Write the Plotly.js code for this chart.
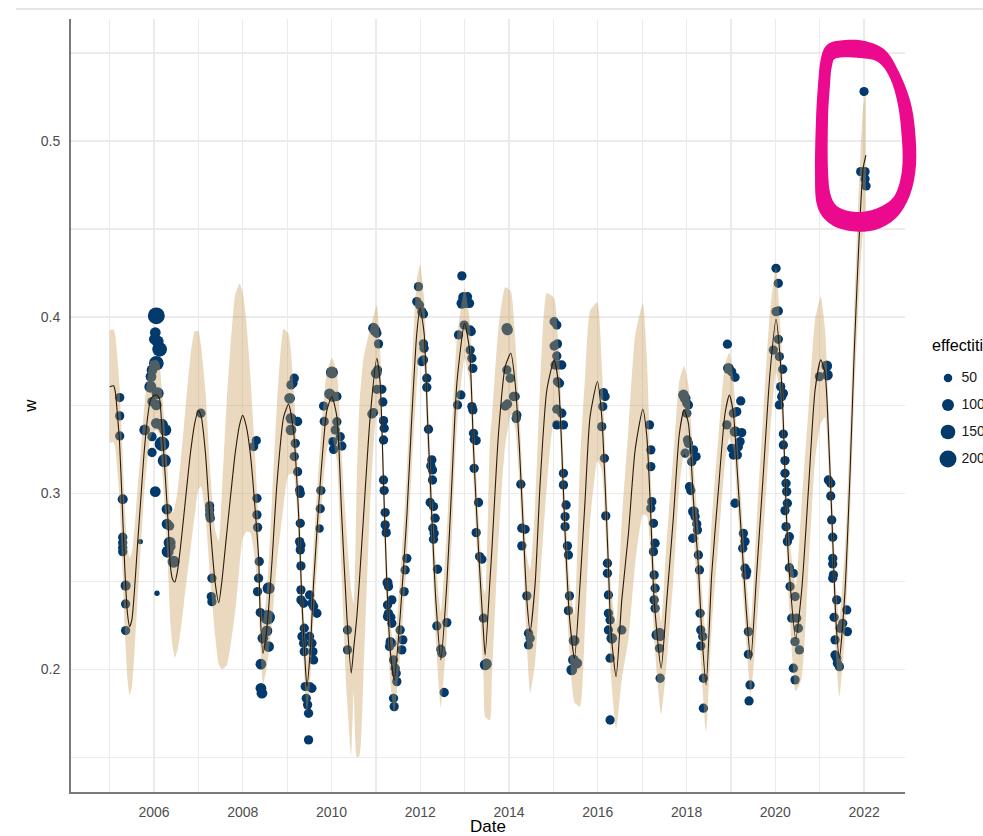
<!DOCTYPE html>
<html>
<head>
<meta charset="utf-8">
<script src="https://cdn.plot.ly/plotly-3.0.1.min.js"></script>
<style>html,body{margin:0;padding:0;background:#fff;}#chart{width:983px;height:836px;}</style>
</head>
<body>
<div id="chart"></div>
<script>
// ---------- DATA ----------
// smooth fit: [decimal year, fitted w, half-width of the confidence band]
const fit2005_2008 = [
 [2005.00,0.3605,0.032],[2005.09,0.3610,0.032],[2005.13,0.357,0.032],[2005.19,0.340,0.032],[2005.22,0.330,0.032],
 [2005.28,0.296,0.033],[2005.34,0.258,0.035],[2005.40,0.232,0.037],[2005.45,0.2242,0.039],[2005.50,0.228,0.038],
 [2005.56,0.245,0.035],[2005.62,0.2677,0.032],[2005.70,0.296,0.028],[2005.77,0.321,0.025],[2005.85,0.342,0.023],
 [2005.92,0.353,0.022],
 [2006.00,0.3555,0.02],[2006.05,0.3558,0.02],[2006.12,0.354,0.02],[2006.17,0.340,0.021],[2006.22,0.3226,0.022],
 [2006.31,0.2867,0.026],[2006.37,0.2583,0.032],[2006.42,0.251,0.038],[2006.47,0.2496,0.043],[2006.53,0.256,0.045],
 [2006.60,0.270,0.048],[2006.67,0.2867,0.05],[2006.82,0.3226,0.055],[2006.92,0.340,0.052],
 [2007.00,0.347,0.045],[2007.06,0.344,0.04],[2007.16,0.3226,0.035],[2007.28,0.2773,0.03],[2007.38,0.2489,0.03],
 [2007.46,0.2378,0.035],[2007.53,0.250,0.05],[2007.64,0.2773,0.075],[2007.83,0.3226,0.09],[2007.93,0.339,0.08],
 [2008.00,0.3442,0.07],[2008.08,0.338,0.06],[2008.17,0.3226,0.045],[2008.32,0.2773,0.025],[2008.36,0.2621,0.02],
 [2008.39,0.2337,0.018],[2008.455,0.2091,0.018],[2008.52,0.218,0.02],[2008.58,0.2337,0.025],[2008.66,0.2621,0.035],
 [2008.77,0.3055,0.045],[2008.92,0.3433,0.05]
];
const fit2009_2013 = [
 [2009.03,0.3505,0.04],[2009.14,0.3359,0.025],[2009.26,0.2867,0.018],[2009.33,0.2393,0.016],[2009.41,0.2015,0.015],
 [2009.445,0.1901,0.015],[2009.52,0.211,0.018],[2009.595,0.2488,0.02],[2009.745,0.3056,0.022],[2009.895,0.347,0.022],
 [2010.008,0.3548,0.022],[2010.12,0.3435,0.025],[2010.23,0.2867,0.035],[2010.346,0.2299,0.045],[2010.443,0.1978,0.047],
 [2010.50,0.212,0.025],[2010.571,0.230,0.08],[2010.63,0.251,0.10],[2010.721,0.2867,0.09],[2010.871,0.3435,0.05],
 [2011.021,0.3766,0.03],[2011.096,0.3624,0.02],[2011.172,0.3056,0.017],[2011.247,0.2488,0.017],[2011.322,0.211,0.017],
 [2011.412,0.1939,0.019],[2011.547,0.230,0.022],[2011.697,0.2867,0.025],[2011.81,0.3435,0.028],[2011.922,0.3908,0.03],
 [2011.997,0.405,0.025],
 [2012.087,0.3908,0.02],[2012.162,0.3435,0.018],[2012.26,0.2867,0.018],[2012.35,0.2394,0.022],[2012.463,0.2053,0.027],
 [2012.598,0.2488,0.03],[2012.71,0.3056,0.03],[2012.823,0.3624,0.025],[2012.996,0.3965,0.02],
 [2013.108,0.3814,0.018],[2013.199,0.3246,0.018],[2013.311,0.2678,0.02],[2013.424,0.2205,0.025],[2013.46,0.2081,0.035],
 [2013.57,0.251,0.08],[2013.612,0.2678,0.075],[2013.762,0.334,0.06],[2013.912,0.3719,0.045]
];
const fit2014_2018 = [
 [2014.04,0.3795,0.035],[2014.137,0.3624,0.025],[2014.235,0.3246,0.02],[2014.325,0.2772,0.02],[2014.4,0.2394,0.025],
 [2014.475,0.2214,0.035],[2014.588,0.2488,0.045],[2014.7,0.3056,0.055],[2014.851,0.3586,0.055],
 [2015.016,0.3757,0.035],[2015.113,0.3624,0.022],[2015.188,0.3246,0.02],[2015.263,0.2772,0.02],[2015.361,0.2299,0.02],
 [2015.474,0.2063,0.025],[2015.601,0.2488,0.07],[2015.714,0.2962,0.07],[2015.826,0.3435,0.06],[2015.992,0.3634,0.045],
 [2016.089,0.3435,0.03],[2016.164,0.3056,0.022],[2016.225,0.2678,0.022],[2016.3,0.2205,0.025],[2016.412,0.1958,0.03],
 [2016.54,0.2394,0.045],[2016.69,0.2772,0.06],[2016.84,0.3246,0.065],
 [2017.013,0.3477,0.06],[2017.103,0.3321,0.045],[2017.193,0.2867,0.025],[2017.268,0.2394,0.022],[2017.426,0.2006,0.026],
 [2017.553,0.2394,0.035],[2017.703,0.2867,0.035],[2017.838,0.3341,0.03],[2017.944,0.3473,0.025],
 [2018.041,0.3397,0.022],[2018.154,0.2962,0.02],[2018.266,0.2583,0.022],[2018.342,0.2205,0.025],[2018.439,0.1911,0.027],
 [2018.567,0.2545,0.03],[2018.717,0.3018,0.03],[2018.867,0.3454,0.028],[2018.965,0.3558,0.024]
];
const fit2019_2022 = [
 [2019.055,0.3454,0.02],[2019.145,0.3113,0.018],[2019.242,0.2734,0.018],[2019.34,0.2356,0.018],[2019.445,0.2053,0.02],
 [2019.58,0.2545,0.03],[2019.73,0.3113,0.035],[2019.88,0.3681,0.035],
 [2020.016,0.3988,0.03],[2020.106,0.3776,0.02],[2020.181,0.3397,0.018],[2020.241,0.2924,0.018],[2020.316,0.2545,0.02],
 [2020.459,0.2176,0.03],[2020.594,0.2451,0.05],[2020.744,0.3018,0.045],[2020.894,0.3586,0.04],
 [2021.022,0.3757,0.036],[2021.119,0.3681,0.025],[2021.217,0.3208,0.018],[2021.292,0.2734,0.018],[2021.367,0.2261,0.02],
 [2021.442,0.2063,0.022],[2021.57,0.2451,0.025],[2021.682,0.3113,0.025],[2021.773,0.3776,0.025],[2021.86,0.430,0.03],
 [2021.92,0.462,0.032],[2021.98,0.485,0.035],[2022.04,0.492,0.035]
];

// observations: [decimal year, w, effectiveness]
const obs2005_2008 = [
 [2005.226,0.3543,60],[2005.226,0.3439,60],[2005.226,0.3325,60],[2005.294,0.2966,70],[2005.294,0.2750,60],
 [2005.294,0.2719,60],[2005.294,0.2691,60],[2005.294,0.2668,60],[2005.36,0.2475,70],[2005.36,0.2371,60],
 [2005.36,0.2220,60],[2005.691,0.2725,20],
 [2006.052,0.4007,200],[2006.029,0.3912,80],[2006.007,0.3874,80],[2006.082,0.3861,100],[2006.127,0.3817,150],
 [2006.052,0.3738,150],[2005.955,0.3700,80],[2005.932,0.3662,80],[2005.917,0.3605,100],[2005.955,0.3520,60],
 [2006.082,0.3567,100],[2006.052,0.3501,80],[2006.052,0.3397,80],[2006.18,0.3388,100],[2006.255,0.3359,100],
 [2005.789,0.3359,80],[2005.955,0.3321,60],[2005.955,0.3231,60],[2006.18,0.3280,150],[2006.232,0.3185,120],
 [2006.029,0.3009,80],[2006.292,0.2909,80],[2006.292,0.2825,80],[2006.352,0.2814,60],[2006.352,0.2719,100],
 [2006.307,0.2668,100],[2006.382,0.2697,60],[2006.442,0.2611,100],[2006.067,0.2432,20],
 [2007.058,0.3454,60],[2007.254,0.2928,60],[2007.254,0.2905,60],[2007.254,0.2877,60],[2007.269,0.2858,60],
 [2007.306,0.2517,60],[2007.291,0.2413,60],[2007.306,0.2384,60],
 [2008.305,0.3299,60],[2008.245,0.3265,60],[2008.32,0.2971,60],[2008.32,0.2877,60],[2008.334,0.2806,60],
 [2008.372,0.2612,60],[2008.357,0.2517,60],[2008.334,0.2441,60],[2008.394,0.2322,60],[2008.582,0.2460,100],
 [2008.559,0.2295,150],[2008.544,0.2218,80],[2008.454,0.2176,80],[2008.582,0.2129,80],[2008.409,0.2029,80],
 [2008.409,0.1892,80],[2008.432,0.1864,80]
];
const obs2009_2012 = [
 [2009.16,0.3653,60],[2009.13,0.3624,60],[2009.085,0.3615,60],[2009.054,0.3539,80],[2009.085,0.3425,80],
 [2009.085,0.3359,80],[2009.235,0.3407,60],[2009.182,0.3283,60],[2009.16,0.3208,60],[2009.235,0.3122,60],
 [2009.28,0.3018,60],[2009.295,0.2999,60],[2009.295,0.2829,60],[2009.28,0.2725,60],[2009.31,0.2706,60],
 [2009.295,0.2678,60],[2009.31,0.2587,60],[2009.31,0.2451,60],[2009.31,0.2394,60],[2009.37,0.2375,60],
 [2009.505,0.2422,60],[2009.557,0.2375,60],[2009.595,0.2356,60],[2009.67,0.2318,60],[2009.385,0.2233,60],
 [2009.332,0.2186,60],[2009.37,0.2148,60],[2009.505,0.2186,60],[2009.557,0.2148,60],[2009.385,0.2100,60],
 [2009.58,0.2100,60],[2009.595,0.2053,60],[2009.407,0.1902,60],[2009.505,0.1902,60],[2009.557,0.1892,60],
 [2009.43,0.1835,60],[2009.46,0.1798,60],[2009.482,0.1750,60],[2009.482,0.1599,60],[2009.76,0.3015,60],
 [2009.745,0.2912,60],[2009.73,0.2799,50],[2009.82,0.3495,60],[2009.835,0.3407,60],[2009.955,0.3564,80],
 [2010.008,0.3685,100],[2010.03,0.3549,80],[2010.12,0.3549,60],[2010.12,0.3406,60],[2010.083,0.3359,60],
 [2010.196,0.3321,60],[2010.233,0.3268,60],[2010.045,0.3249,60],[2010.03,0.3293,60],[2010.36,0.2223,60],
 [2010.36,0.2110,60],[2010.946,0.3937,80],[2010.984,0.3923,80],[2010.909,0.3450,60],[2010.946,0.3458,60],
 [2011.021,0.3908,60],[2011.059,0.3848,60],[2011.006,0.3681,80],[2011.036,0.3700,60],[2011.021,0.3590,60],
 [2011.134,0.3590,60],[2011.157,0.3518,60],[2011.172,0.3412,60],[2011.187,0.3369,60],[2011.172,0.3302,60],
 [2011.172,0.3075,60],[2011.187,0.3015,60],[2011.209,0.2890,60],[2011.209,0.2820,60],[2011.232,0.2776,60],
 [2011.262,0.2492,70],[2011.284,0.2470,60],[2011.262,0.2365,60],[2011.284,0.2318,60],[2011.359,0.2394,60],
 [2011.262,0.2299,60],[2011.337,0.2295,60],[2011.359,0.2261,60],[2011.322,0.2157,60],[2011.359,0.2148,60],
 [2011.307,0.2129,60],[2011.397,0.2053,60],[2011.434,0.2006,60],[2011.457,0.1977,60],[2011.472,0.1930,60],
 [2011.397,0.1835,60],[2011.412,0.1788,60],[2011.547,0.2223,60],[2011.607,0.2167,60],[2011.584,0.2110,60],
 [2011.637,0.2441,60],[2011.66,0.2564,60],[2011.697,0.2630,60],[2011.96,0.4173,60],[2011.922,0.4088,60],
 [2011.982,0.4069,60],
 [2012.035,0.4031,60],[2012.072,0.4018,60],[2012.072,0.3848,60],[2012.087,0.3823,60],[2012.035,0.3747,60],
 [2012.072,0.3757,60],[2012.147,0.3653,60],[2012.147,0.3601,60],[2012.185,0.3363,60],[2012.26,0.3189,60],
 [2012.238,0.3155,60],[2012.275,0.3132,60],[2012.275,0.3075,60],[2012.223,0.2947,60],[2012.298,0.2924,60],
 [2012.335,0.2858,60],[2012.283,0.2801,60],[2012.313,0.2772,60],[2012.298,0.2738,60],[2012.388,0.2568,60],
 [2012.373,0.2246,60],[2012.598,0.2265,60],[2012.463,0.2114,60],[2012.485,0.2091,60],[2012.538,0.1868,60],
 [2012.838,0.3501,60],[2012.913,0.3558,60],[2012.936,0.4078,80],[2012.973,0.4112,80],[2012.936,0.4234,60],
 [2012.861,0.3899,60],[2012.988,0.3955,60]
];
const obs2013_2016 = [
 [2013.048,0.4078,60],[2013.108,0.4078,60],[2013.063,0.4116,60],[2013.123,0.3927,60],[2013.146,0.3918,60],
 [2013.123,0.3813,60],[2013.161,0.3766,60],[2013.183,0.3709,60],[2013.161,0.3492,60],[2013.183,0.3473,60],
 [2013.198,0.3340,60],[2013.213,0.3306,60],[2013.258,0.3299,60],[2013.213,0.3141,60],[2013.311,0.2947,60],
 [2013.258,0.2776,60],[2013.334,0.2640,60],[2013.386,0.2625,60],[2013.424,0.2290,60],[2013.461,0.2025,80],
 [2013.49,0.2030,80],[2013.95,0.3936,80],[2013.965,0.3927,80],[2013.95,0.3700,60],[2013.912,0.3495,60],
 [2013.965,0.3507,60],
 [2014.025,0.3653,60],[2014.1,0.3549,60],[2014.137,0.3549,60],[2014.175,0.3444,60],[2014.16,0.3425,60],
 [2014.265,0.3051,60],[2014.287,0.2801,60],[2014.362,0.2795,60],[2014.287,0.2701,60],[2014.4,0.2417,60],
 [2014.438,0.2205,60],[2014.475,0.2176,60],[2014.438,0.2138,60],
 [2015.016,0.3974,60],[2015.076,0.3955,60],[2015.016,0.3836,60],[2015.091,0.3848,60],[2015.076,0.3779,60],
 [2015.038,0.3728,60],[2015.113,0.3728,60],[2015.188,0.3728,60],[2015.091,0.3634,60],[2015.136,0.3624,60],
 [2015.076,0.3477,60],[2015.188,0.3454,60],[2015.076,0.3388,60],[2015.226,0.3388,60],[2015.226,0.3113,60],
 [2015.226,0.3047,60],[2015.286,0.2933,60],[2015.263,0.2867,60],[2015.263,0.2810,60],[2015.316,0.2701,60],
 [2015.338,0.2649,60],[2015.361,0.2417,60],[2015.338,0.2333,60],[2015.466,0.2163,80],[2015.451,0.2053,80],
 [2015.526,0.2034,80],[2015.413,0.1996,80],
 [2016.127,0.3571,60],[2016.164,0.3549,60],[2016.112,0.3492,60],[2016.089,0.3378,60],[2016.149,0.3198,60],
 [2016.179,0.2871,60],[2016.217,0.2602,60],[2016.217,0.2545,60],[2016.239,0.2422,60],[2016.239,0.2318,60],
 [2016.277,0.2280,60],[2016.239,0.2223,60],[2016.315,0.2176,80],[2016.277,0.2063,60],[2016.277,0.1712,60],
 [2016.54,0.2223,60]
];
const obs2017_2022 = [
 [2017.163,0.3388,60],[2017.193,0.3246,60],[2017.193,0.3151,60],[2017.215,0.2952,60],[2017.193,0.2914,60],
 [2017.253,0.2829,60],[2017.29,0.2716,60],[2017.253,0.2668,60],[2017.268,0.2536,60],[2017.29,0.2460,60],
 [2017.268,0.2394,60],[2017.29,0.2346,60],[2017.328,0.2195,80],[2017.388,0.2205,80],[2017.403,0.2186,60],
 [2017.388,0.2119,60],[2017.403,0.1949,60],[2017.929,0.3558,80],[2017.966,0.3539,80],
 [2018.004,0.3511,60],[2018.041,0.3501,60],[2018.004,0.3454,60],[2018.019,0.3302,60],[2018.041,0.3283,60],
 [2017.966,0.3227,60],[2018.154,0.3246,60],[2018.214,0.3208,60],[2018.116,0.3179,60],[2018.064,0.3037,60],
 [2018.094,0.3015,60],[2018.154,0.2896,80],[2018.191,0.2867,60],[2018.229,0.2825,60],[2018.244,0.2791,60],
 [2018.139,0.2744,60],[2018.266,0.2649,60],[2018.289,0.2564,60],[2018.304,0.2318,60],[2018.319,0.2223,60],
 [2018.364,0.2186,60],[2018.319,0.2133,60],[2018.379,0.1949,60],[2018.379,0.1779,60],[2018.92,0.3846,60],
 [2018.942,0.3709,80],[2018.905,0.3388,60],
 [2019.017,0.3690,60],[2019.092,0.3658,60],[2019.055,0.3454,60],[2019.13,0.3463,60],[2019.22,0.3524,60],
 [2019.092,0.3350,80],[2019.242,0.3344,60],[2019.205,0.3293,60],[2019.167,0.3264,60],[2019.017,0.3255,60],
 [2019.055,0.3217,60],[2019.145,0.3217,60],[2019.092,0.2943,60],[2019.28,0.2772,60],[2019.317,0.2725,60],
 [2019.265,0.2687,60],[2019.317,0.2574,60],[2019.355,0.2555,60],[2019.34,0.2536,60],[2019.393,0.2214,60],
 [2019.393,0.2085,60],[2019.43,0.1911,60],[2019.408,0.1820,60],[2019.956,0.3813,60],
 [2020.016,0.4277,60],[2020.068,0.4192,60],[2020.016,0.4031,60],[2020.068,0.4035,60],[2020.068,0.3874,60],
 [2020.091,0.3776,60],[2020.166,0.3704,60],[2020.121,0.3605,60],[2020.181,0.3567,60],[2020.143,0.3548,60],
 [2020.091,0.3501,60],[2020.181,0.3336,60],[2020.181,0.3274,60],[2020.218,0.3185,60],[2020.218,0.3113,60],
 [2020.241,0.3056,60],[2020.256,0.3009,60],[2020.271,0.2943,60],[2020.218,0.2901,60],[2020.241,0.2810,60],
 [2020.316,0.2753,60],[2020.271,0.2725,60],[2020.316,0.2577,60],[2020.406,0.2545,60],[2020.331,0.2470,60],
 [2020.444,0.2413,60],[2020.369,0.2290,60],[2020.481,0.2290,60],[2020.519,0.2233,60],[2020.444,0.2157,60],
 [2020.541,0.2110,60],[2020.406,0.2006,60],[2020.444,0.1940,60],[2020.992,0.3662,60],
 [2021.157,0.3723,80],[2021.172,0.3671,80],[2021.194,0.3075,60],[2021.247,0.3056,60],[2021.247,0.2984,60],
 [2021.269,0.2848,60],[2021.292,0.2750,60],[2021.292,0.2630,60],[2021.292,0.2598,60],[2021.307,0.2536,60],
 [2021.292,0.2517,60],[2021.382,0.2394,60],[2021.322,0.2295,60],[2021.344,0.2167,60],[2021.344,0.2081,60],
 [2021.382,0.2063,60],[2021.397,0.2034,60],[2021.442,0.2015,60],[2021.457,0.2233,60],[2021.517,0.2261,60],
 [2021.607,0.2337,60],[2021.622,0.2214,60],
 [2021.998,0.5281,60],[2021.923,0.4826,60],[2022.02,0.4826,60],[2022.02,0.4785,60],[2022.043,0.4745,60]
];

const legendValues = [50, 100, 150, 200];
const legendTitle = 'effectiti';
const xTitle = 'Date';
const yTitle = 'w';

// ---------- helpers ----------
function yearToDate(y) {
  const yr = Math.floor(y);
  const s = Date.UTC(yr, 0, 1), e = Date.UTC(yr + 1, 0, 1);
  return new Date(s + (y - yr) * (e - s)).toISOString().slice(0, 19).replace('T', ' ');
}
const sizeOf = v => 1.2 * Math.sqrt(v);

const fit = [].concat(fit2005_2008, fit2009_2013, fit2014_2018, fit2019_2022);
const obs = [].concat(obs2005_2008, obs2009_2012, obs2013_2016, obs2017_2022);

const fitX = fit.map(r => yearToDate(r[0]));
const fitY = fit.map(r => r[1]);
const fitLo = fit.map(r => r[1] - r[2]);
const fitHi = fit.map(r => r[1] + r[2]);

const W = 983, H = 836, ML = 71, MT = 19, MB = 44;
const plotW = W - ML, plotH = H - MT - MB;
const px = x => (x - ML) / plotW;
const py = y => (H - MB - y) / plotH;

const NAVY = 'rgb(4,57,107)';
const FONT = 'Liberation Sans, Arial, Helvetica, sans-serif';
const legendLabels = legendValues.map(String);

const traces = [
  { type: 'scatter', mode: 'markers', x: obs.map(r => yearToDate(r[0])), y: obs.map(r => r[1]),
    marker: { color: NAVY, opacity: 1, size: obs.map(r => sizeOf(r[2])), line: { width: 0 } },
    hoverinfo: 'skip', showlegend: false, cliponaxis: true },
  { type: 'scatter', mode: 'lines', x: fitX, y: fitLo, line: { width: 0, shape: 'spline', smoothing: 0.5 },
    hoverinfo: 'skip', showlegend: false },
  { type: 'scatter', mode: 'lines', x: fitX, y: fitHi, line: { width: 0, shape: 'spline', smoothing: 0.5 },
    fill: 'tonexty', fillcolor: 'rgba(200,155,85,0.38)', hoverinfo: 'skip', showlegend: false },
  { type: 'scatter', mode: 'lines', x: fitX, y: fitY, line: { color: '#2b1b0b', width: 1.1, shape: 'spline', smoothing: 0.6 },
    hoverinfo: 'skip', showlegend: false },
  // size legend keys
  { type: 'scatter', mode: 'markers', xaxis: 'x2', yaxis: 'y2',
    x: legendValues.map(() => 0), y: legendLabels,
    marker: { color: NAVY, opacity: 1, size: legendValues.map(sizeOf), line: { width: 0 } },
    hoverinfo: 'skip', showlegend: false, cliponaxis: false },
  // size legend labels
  { type: 'scatter', mode: 'text', xaxis: 'x2', yaxis: 'y2',
    x: legendValues.map(() => 1.35), y: legendLabels, text: legendLabels,
    textposition: 'middle right', textfont: { family: FONT, size: 14, color: '#1a1a1a' },
    hoverinfo: 'skip', showlegend: false, cliponaxis: false }
];

// hand-drawn highlight loop (decoration), page pixels
const loopOuter = [[828,44],[845,40],[865,41],[885,50],[898,70],[910,100],[915,130],[916,165],[910,195],[896,218],
  [875,230],[850,231],[829,223],[817,205],[815,170],[816,120],[818,85],[821,58]];
const loopInner = [[837,58],[860,58],[878,62],[890,78],[898,105],[902,140],[902,170],[895,195],[880,207],[860,212],
  [840,208],[831,196],[828,170],[828,120],[830,85],[832,66]];
function closedSpline(pts) {
  const n = pts.length, P = pts.map(p => [px(p[0]), py(p[1])]);
  const f = v => v.toFixed(5);
  let d = 'M' + f(P[0][0]) + ',' + f(P[0][1]);
  for (let i = 0; i < n; i++) {
    const p0 = P[(i - 1 + n) % n], p1 = P[i], p2 = P[(i + 1) % n], p3 = P[(i + 2) % n];
    const c1 = [p1[0] + (p2[0] - p0[0]) / 6, p1[1] + (p2[1] - p0[1]) / 6];
    const c2 = [p2[0] - (p3[0] - p1[0]) / 6, p2[1] - (p3[1] - p1[1]) / 6];
    d += ' C' + f(c1[0]) + ',' + f(c1[1]) + ' ' + f(c2[0]) + ',' + f(c2[1]) + ' ' + f(p2[0]) + ',' + f(p2[1]);
  }
  return d + ' Z';
}
const loopPath = closedSpline(loopOuter) + ' ' + closedSpline(loopInner.slice().reverse());

const grid = '#ebebeb';
const layout = {
  width: W, height: H,
  margin: { l: ML, r: 0, t: MT, b: MB, pad: 0 },
  paper_bgcolor: '#fff', plot_bgcolor: '#fff',
  font: { family: FONT, color: '#4d4d4d' },
  showlegend: false,
  xaxis: {
    type: 'date', domain: [0, px(905)], anchor: 'y',
    range: [yearToDate(2004.1306), yearToDate(2022.9212)],
    tick0: '2006-01-01', dtick: 'M24', tickformat: '%Y',
    showgrid: true, gridcolor: grid, gridwidth: 1.3,
    minor: { tick0: '2005-01-01', dtick: 'M12', showgrid: true, gridcolor: grid, gridwidth: 1.3, ticks: '' },
    showline: true, linecolor: '#7a7a7a', linewidth: 2, mirror: false,
    ticks: '', ticklabelstandoff: 6, zeroline: false, automargin: false,
    tickfont: { family: FONT, size: 14, color: '#4d4d4d' },
    title: { text: xTitle, font: { family: FONT, size: 17, color: '#000' }, standoff: 9 }
  },
  yaxis: {
    range: [0.1303, 0.5693], tick0: 0, dtick: 0.1, anchor: 'x',
    showgrid: true, gridcolor: grid, gridwidth: 1.3,
    minor: { tick0: 0, dtick: 0.05, showgrid: true, gridcolor: grid, gridwidth: 1.3, ticks: '' },
    showline: true, linecolor: '#7a7a7a', linewidth: 2,
    ticks: '', ticklabelstandoff: 6, zeroline: false, automargin: false,
    tickfont: { family: FONT, size: 14, color: '#4d4d4d' },
    title: { text: yTitle, font: { family: FONT, size: 17, color: '#000' }, standoff: 0 }
  },
  xaxis2: { domain: [px(938), px(963)], range: [-1, 1.5], anchor: 'y2', visible: false, fixedrange: true },
  yaxis2: { domain: [py(472.5), py(364.5)], type: 'category', range: [3.5, -0.5], anchor: 'x2', visible: false, fixedrange: true },
  annotations: [
    { xref: 'paper', yref: 'paper', x: px(930), y: py(345), xanchor: 'left', yanchor: 'middle',
      text: legendTitle, showarrow: false, font: { family: FONT, size: 16.2, color: '#000' } }
  ],
  shapes: [
    { type: 'line', xref: 'paper', yref: 'paper', x0: px(16), x1: 1, y0: py(9), y1: py(9),
      line: { color: '#e6e6e6', width: 2 }, layer: 'above' },
    { type: 'path', xref: 'paper', yref: 'paper', path: loopPath, fillrule: 'evenodd',
      fillcolor: '#eb0a8d', line: { width: 0 }, layer: 'above' }
  ]
};

Plotly.newPlot('chart', traces, layout, { displayModeBar: false, staticPlot: true });
</script>
</body>
</html>
